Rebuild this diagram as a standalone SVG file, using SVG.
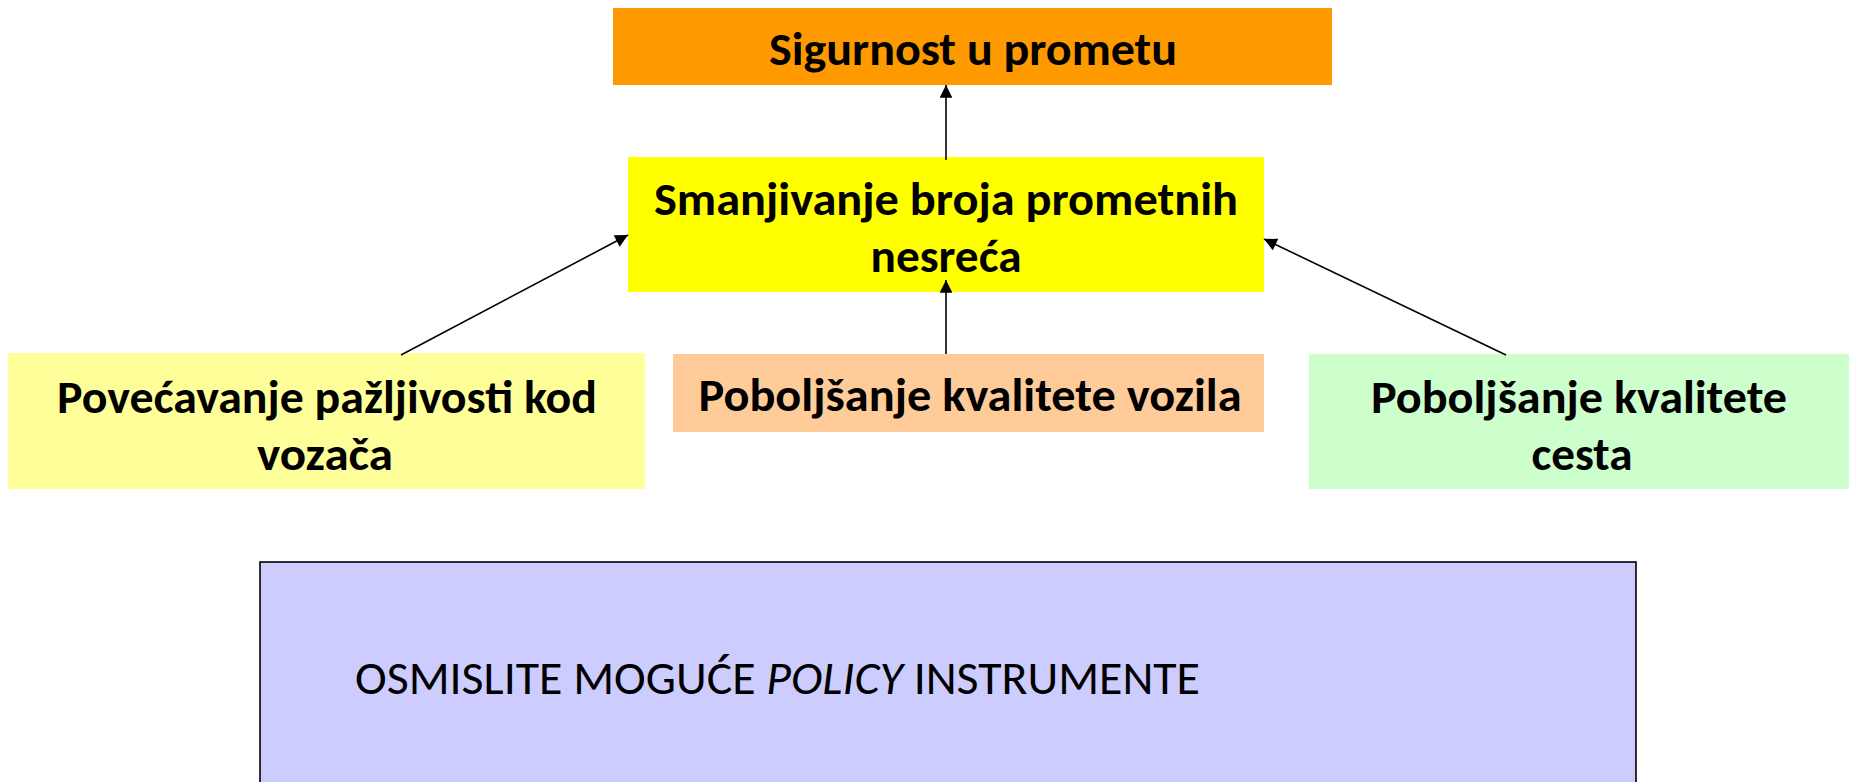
<svg xmlns="http://www.w3.org/2000/svg" width="1849" height="782" viewBox="0 0 1849 782">
<style>
.t{font-family:Carlito,Lato,"Open Sans","Liberation Sans",sans-serif;font-weight:bold;font-size:47px;fill:#000;text-anchor:middle}
.r{font-family:Carlito,Lato,"Open Sans","Liberation Sans",sans-serif;font-weight:normal;font-size:48px;fill:#000}
.c{stroke:#000;stroke-width:1.6;fill:none;marker-end:url(#ah)}
</style>
<defs>
<marker id="ah" viewBox="0 0 10 10" refX="10" refY="5" markerWidth="9.5" markerHeight="8" markerUnits="strokeWidth" orient="auto">
<path d="M0,0 L10,5 L0,10 z" fill="#000"/>
</marker>
</defs>
<rect width="1849" height="782" fill="#fff"/>
<g id="n-sigurnost">
<rect x="613" y="8" width="719" height="77" fill="#FF9900"/>
<text class="t" x="973" y="65" textLength="408" lengthAdjust="spacingAndGlyphs">Sigurnost u prometu</text>
</g>
<g id="n-smanjivanje">
<rect x="628" y="157" width="636" height="135" fill="#FFFF00"/>
<text class="t" x="946" y="215" textLength="584" lengthAdjust="spacingAndGlyphs">Smanjivanje broja prometnih</text>
<text class="t" x="946" y="272" textLength="151" lengthAdjust="spacingAndGlyphs">nesreća</text>
</g>
<g id="n-pazljivost">
<rect x="8" y="353" width="637" height="136" fill="#FFFF99"/>
<text class="t" x="327" y="413" textLength="540" lengthAdjust="spacingAndGlyphs">Povećavanje pažljivosti kod</text>
<text class="t" x="325" y="470" textLength="136" lengthAdjust="spacingAndGlyphs">vozača</text>
</g>
<g id="n-vozila">
<rect x="673" y="354" width="591" height="78" fill="#FFCC99"/>
<text class="t" x="970" y="411" textLength="543" lengthAdjust="spacingAndGlyphs">Poboljšanje kvalitete vozila</text>
</g>
<g id="n-cesta">
<rect x="1309" y="354" width="540" height="135" fill="#CCFFCC"/>
<text class="t" x="1579" y="413" textLength="416" lengthAdjust="spacingAndGlyphs">Poboljšanje kvalitete</text>
<text class="t" x="1582" y="470" textLength="101" lengthAdjust="spacingAndGlyphs">cesta</text>
</g>
<g id="n-instrumenti">
<rect x="260" y="562" width="1376" height="240" fill="#CCCCFF" stroke="#000" stroke-width="1.6"/>
<text class="r" x="355" y="694" textLength="845" lengthAdjust="spacingAndGlyphs">OSMISLITE MOGUĆE <tspan font-style="italic">POLICY</tspan> INSTRUMENTE</text>
</g>
<g id="connectors">
<line class="c" x1="946" y1="160" x2="946" y2="85"/>
<line class="c" x1="946" y1="354" x2="946" y2="280"/>
<line class="c" x1="401" y1="355" x2="628" y2="235"/>
<line class="c" x1="1506" y1="355" x2="1264" y2="239"/>
</g>
</svg>
